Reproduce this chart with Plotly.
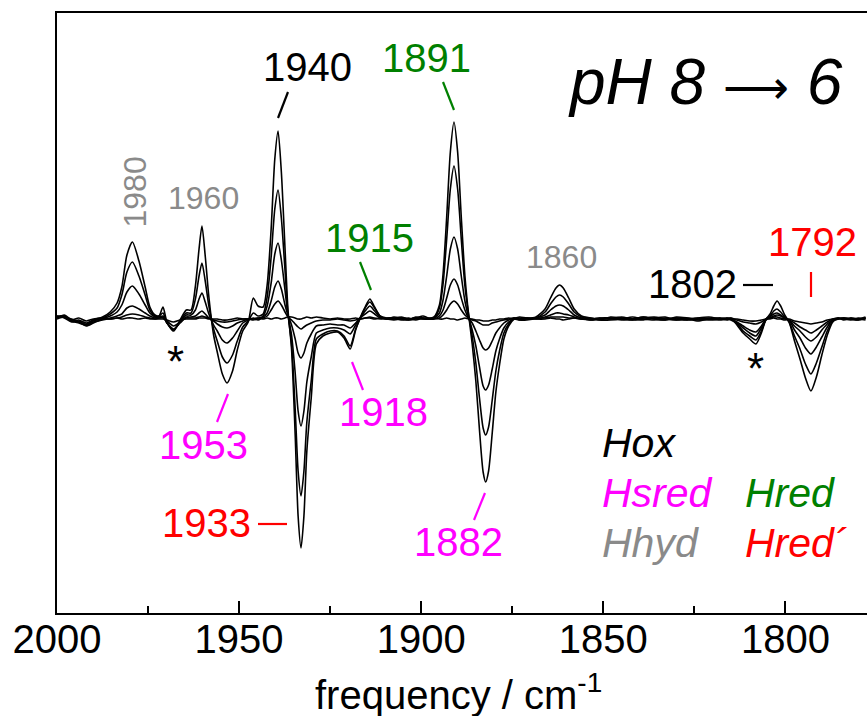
import plotly.graph_objects as go

# ---------------- data (arbitrary ΔA units) ----------------
wavenumber = [
    2000, 1998, 1996, 1994, 1992, 1990, 1987.5,
    1985.4, 1983.5, 1982.2, 1980.8, 1979.3, 1977.5, 1975.8, 1974.5, 1973.1,
    1972, 1970.9, 1969.8, 1968, 1966.2, 1964.5,
    1963.2, 1962, 1961, 1960.2, 1959.3, 1958.3, 1957, 1956, 1954.6, 1953.3, 1951.8, 1950.5, 1949, 1947.5,
    1946.1, 1944.8, 1943.4, 1942.3, 1941.2, 1940.2, 1939.3, 1938.4, 1937.4, 1936.6,
    1935.6, 1934.6, 1933.8, 1933.0, 1932.2, 1931.4, 1930.2, 1928.8, 1927, 1925,
    1923, 1921.2, 1919.5, 1918, 1916.8, 1915.4, 1914.1, 1912.8, 1911.3, 1909.5,
    1907.5, 1905.5, 1903.5, 1901.5, 1899.5,
    1898, 1896.5, 1895, 1894, 1893, 1892, 1891, 1890, 1889, 1888, 1887, 1886,
    1885, 1884, 1883, 1882.3, 1881.5, 1880.5, 1879.5, 1878.5, 1877.3, 1876, 1874.5, 1873,
    1871, 1868.5, 1866, 1864.5, 1863, 1862, 1861, 1859.5, 1858, 1856, 1853.5, 1851,
    1848, 1845, 1842, 1839, 1836, 1833, 1830, 1827, 1824, 1821, 1818, 1816,
    1815, 1813.3, 1811.6, 1809.8, 1808.1, 1806.6, 1805.3, 1804.2, 1803.2, 1802.3, 1801.3, 1800.2, 1799,
    1797.5, 1796, 1794.5, 1793, 1791.5, 1790, 1788.5, 1787, 1785.5, 1784, 1782, 1780, 1778,
]

spectrum_0 = [
    0, 2, -1, 1, -2, 0, 1,
    0, 1, 0, 1, 1, 0, 1, 0, 0,
    0, 0, -1, -3, -1, 0,
    0, 0, 1, 1, 1, 0, 0, 0, -1, -1, 0, 1, 0, 0,
    0, 1, 0, 1, 0, 1, 1, 0, 1, 2,
    2, 1, 0, 0, 1, 2, 1, 2, 1, 0,
    1, 0, 0, 1, 0, 1, 1, 0, 1, 0,
    0, 1, -1, 0, 1,
    0, 1, 0, 0, 1, 0, 0, -1, 0, 1, 0, 0,
    -1, -1, -2, -2, -2, -1, -1, 0, 0, 1, 0, -1,
    1, 0, 0, 1, 0, 0, -1, 0, 1, 0, 0, 1,
    0, 1, -1, 0, 1, 0, -1, 1, 0, -1, 0, 1,
    0, 0, -1, -2, -2, -1, 0, 0, 1, 0, 0, -1, 0,
    -2, -3, -4, -5, -4, -3, -1, 0, 0, 1, 0, 0, 1,
]

spectrum_1 = [
    2, 3, -2, -1, -4, -1, 0,
    0, 1, 2, 4, 5, 4, 2, 1, 0,
    1, 1, -2, -7, -3, 1,
    1, 1, 2, 3, 2, 1, -1, -2, -3, -3, -2, -1, 0, 0,
    -1, 0, 1, 3, 9, 15, 18, 14, 7, 2,
    -1, -5, -8, -10, -8, -6, -4, -2, -1, -1,
    0, -1, -2, -1, 0, 1, 2, 1, 0, 1,
    1, -1, 0, 1, 0,
    1, 0, 1, 4, 9, 15, 18, 15, 9, 4, 1, -1,
    -2, -4, -6, -6, -6, -4, -3, -2, -1, 0, 1, 0,
    0, 1, 1, 2, 2, 2, 2, 1, 1, 0, -1, 0,
    1, -1, 0, 2, 0, -1, 1, 0, -2, 0, 1, 0,
    1, -1, -3, -4, -5, -3, 0, 1, 2, 2, 1, 0, -1,
    -4, -8, -11, -14, -11, -7, -3, 0, 1, 0, 1, 0, -1,
]

spectrum_2 = [
    3, 1, -3, -2, -6, -3, -1,
    1, 3, 5, 11, 13, 10, 6, 3, 1,
    1, 2, -4, -10, -4, 2,
    2, 3, 6, 8, 5, 1, -2, -5, -8, -9, -7, -4, -2, 0,
    0, 1, 2, 6, 18, 32, 38, 30, 14, 4,
    -6, -20, -34, -39, -34, -24, -15, -7, -6, -5,
    -6, -6, -9, -4, 1, 5, 8, 5, 1, 0,
    -1, 0, 1, -1, 1,
    0, 0, 3, 9, 21, 34, 40, 34, 21, 9, 1, -4,
    -12, -21, -29, -31, -29, -22, -14, -9, -4, -1, 1, 0,
    1, 0, 2, 4, 6, 6, 5, 4, 2, 0, 1, -1,
    -1, 0, 2, 0, -1, 1, 0, -1, 1, 2, 0, -1,
    0, -3, -7, -11, -13, -7, 0, 1, 3, 4, 3, 1, -1,
    -7, -12, -18, -22, -18, -11, -5, -1, 0, 1, 0, -1, 1,
]

spectrum_3 = [
    1, 4, -1, -3, -7, -4, 0,
    3, 7, 14, 27, 33, 25, 14, 6, 2,
    2, 3, -4, -11, -3, 4,
    4, 9, 20, 26, 17, 5, -6, -12, -21, -24, -19, -12, -4, -1,
    1, -1, 3, 13, 36, 65, 76, 59, 29, 4,
    -16, -54, -92, -107, -92, -63, -38, -14, -11, -9,
    -9, -11, -15, -6, 1, 8, 13, 8, 2, 0,
    0, 2, 0, 1, 0,
    0, 1, 6, 19, 43, 70, 82, 70, 43, 18, 2, -11,
    -27, -48, -67, -71, -66, -50, -32, -20, -9, -3, 0, 1,
    0, 1, 4, 9, 13, 14, 13, 9, 4, 1, -1, 0,
    0, 2, 0, -1, 1, 2, -1, 0, 1, 0, -1, 0,
    -1, -4, -9, -14, -17, -9, -1, 2, 5, 6, 4, 1, -1,
    -11, -19, -29, -35, -28, -18, -8, -1, 1, 0, -1, 1, 0,
]

spectrum_4 = [
    2, 3, -2, -4, -6, -2, 1,
    5, 11, 24, 47, 57, 43, 24, 9, 3,
    3, 6, -4, -11, -2, 6,
    6, 20, 43, 56, 38, 13, -10, -22, -38, -44, -36, -22, -8, -2,
    6, 3, 5, 22, 62, 110, 129, 101, 49, 6,
    -25, -90, -152, -177, -152, -103, -62, -20, -15, -12,
    -12, -17, -27, -10, 0, 11, 17, 11, 3, 1,
    1, 0, -1, 2, 1,
    0, 1, 11, 35, 80, 130, 153, 130, 80, 33, 5, -17,
    -44, -79, -109, -116, -108, -81, -52, -32, -14, -5, 1, -1,
    -1, 1, 7, 15, 22, 24, 22, 15, 7, 2, 0, 1,
    1, 0, -1, 1, 2, 0, 1, -1, 0, 1, 0, 1,
    0, -5, -12, -17, -21, -12, 0, 3, 8, 10, 7, 2, -3,
    -17, -30, -45, -55, -44, -28, -12, -2, 0, 1, 0, -1, 1,
]

spectrum_5 = [
    3, 2, 0, -3, -5, -1, 2,
    7, 16, 32, 64, 77, 58, 32, 12, 4,
    3, 12, -3, -12, -1, 9,
    9, 33, 70, 93, 63, 22, -16, -33, -55, -64, -52, -31, -12, -3,
    21, 13, 12, 34, 90, 160, 188, 147, 71, 10,
    -30, -116, -197, -229, -197, -132, -79, -25, -17, -14,
    -13, -19, -30, -11, 1, 12, 20, 12, 3, 0,
    2, 1, 0, 1, 3,
    1, 2, 14, 45, 102, 167, 197, 167, 102, 43, 5, -25,
    -62, -111, -153, -163, -152, -114, -73, -46, -20, -7, 0, 2,
    1, 2, 10, 21, 31, 34, 31, 21, 10, 3, 1, -1,
    2, 1, 0, 2, 0, -1, 2, 1, -1, 0, 1, 0,
    1, -6, -14, -20, -25, -14, 0, 5, 13, 18, 13, 4, -3,
    -22, -40, -59, -72, -58, -36, -16, -3, 1, -1, 1, 0, 2,
]

spectra = [spectrum_0, spectrum_1, spectrum_2, spectrum_3, spectrum_4, spectrum_5]

x_tick_values = [2000, 1950, 1900, 1850, 1800]
x_tick_labels = ["2000", "1950", "1900", "1850", "1800"]
x_axis_title = "frequency / cm<sup>-1</sup>"

for s in spectra:
    if len(s) != len(wavenumber):
        raise ValueError(f"length mismatch {len(s)} vs {len(wavenumber)}")

# ---------------- figure ----------------
W, H = 867, 716
ML, MR, MT, MB = 57, 0, 13, 103
PW, PH = W - ML - MR, H - MT - MB


def px(x):
    return (x - ML) / PW


def py(y):
    return (H - MB - y) / PH


fig = go.Figure()
for s in spectra:
    fig.add_trace(go.Scatter(
        x=wavenumber, y=s, mode="lines",
        line=dict(color="black", width=1.6, shape="spline", smoothing=0.7),
        showlegend=False, hoverinfo="skip",
    ))

FONT = "Liberation Sans, Arial, sans-serif"
GREEN, MAGENTA, RED, GRAY = "#008000", "#ff00ff", "#ff0000", "#8a8a8a"

labels = [
    ("1940", 307, 67, "black", 40, 0),
    ("1891", 426, 58, GREEN, 40, 0),
    ("1915", 369, 238, GREEN, 40, 0),
    ("1980", 134.5, 192, GRAY, 32, -90),
    ("1960", 203, 198, GRAY, 32, 0),
    ("1860", 561, 257, GRAY, 32, 0),
    ("1802", 692, 284, "black", 40, 0),
    ("1792", 812, 242, RED, 40, 0),
    ("1953", 203, 445, MAGENTA, 40, 0),
    ("1918", 383, 412, MAGENTA, 40, 0),
    ("1933", 206, 523, RED, 40, 0),
    ("1882", 458, 542, MAGENTA, 40, 0),
    ("*", 175, 361, "black", 44, 0),
    ("*", 755, 369, "black", 44, 0),
]
for text, x, y, color, size, angle in labels:
    fig.add_annotation(
        x=px(x), y=py(y), xref="paper", yref="paper", text=text, showarrow=False,
        xanchor="center", yanchor="middle", textangle=angle,
        font=dict(family=FONT, size=size, color=color),
    )

legend_words = [
    ("<i>Hox</i>", 600, 443, "black"),
    ("<i>Hsred</i>", 600, 493, MAGENTA),
    ("<i>Hred</i>", 743, 493, GREEN),
    ("<i>Hhyd</i>", 600, 543, GRAY),
    ("<i>Hred´</i>", 743, 543, RED),
]
for text, x, y, color in legend_words:
    fig.add_annotation(
        x=px(x), y=py(y), xref="paper", yref="paper", text=text, showarrow=False,
        xanchor="left", yanchor="middle",
        font=dict(family=FONT, size=41, color=color),
    )

fig.add_annotation(
    x=px(705), y=py(82), xref="paper", yref="paper",
    text="<i>pH 8 </i><span style=\"font-size:46px\">⟶</span><i> 6</i>",
    showarrow=False, xanchor="center", yanchor="middle",
    font=dict(family=FONT, size=64, color="black"),
)

# axis title (placed as an annotation so it can sit as low as in the reference)
fig.add_annotation(
    x=px(458), y=py(692), xref="paper", yref="paper", text=x_axis_title,
    showarrow=False, xanchor="center", yanchor="middle",
    font=dict(family=FONT, size=40, color="black"),
)

marks = [
    (288, 92, 278, 118, "black"),
    (443, 82, 454, 110, GREEN),
    (360, 262, 371, 290, GREEN),
    (228, 394, 217, 422, MAGENTA),
    (352, 362, 363, 390, MAGENTA),
    (258, 524, 287, 524, RED),
    (485, 493, 474, 520, MAGENTA),
    (743, 285, 773, 285, "black"),
    (811, 272, 811, 297, RED),
]
for x0, y0, x1, y1, color in marks:
    fig.add_shape(type="line", xref="paper", yref="paper",
                  x0=px(x0), y0=py(y0), x1=px(x1), y1=py(y1),
                  line=dict(color=color, width=2.2))

fig.update_layout(
    width=W, height=H,
    margin=dict(l=ML, r=MR, t=MT, b=MB, pad=0),
    paper_bgcolor="white", plot_bgcolor="white",
    font=dict(family=FONT, color="black"),
    xaxis=dict(
        range=[2000, 1777.6], tickvals=x_tick_values, ticktext=x_tick_labels,
        ticks="inside", ticklen=12, tickwidth=2, tickcolor="black",
        ticklabelstandoff=-10,
        minor=dict(ticks="inside", ticklen=7, tickwidth=2, tickcolor="black", dtick=25, tick0=2000),
        showline=True, linecolor="black", linewidth=2, mirror=True,
        showgrid=False, zeroline=False,
        tickfont=dict(family=FONT, size=40, color="black"),
    ),
    yaxis=dict(
        range=[-294, 306], showticklabels=False, ticks="",
        showline=True, linecolor="black", linewidth=2, mirror=False,
        showgrid=False, zeroline=False,
    ),
)

fig.write_html("out.html")
